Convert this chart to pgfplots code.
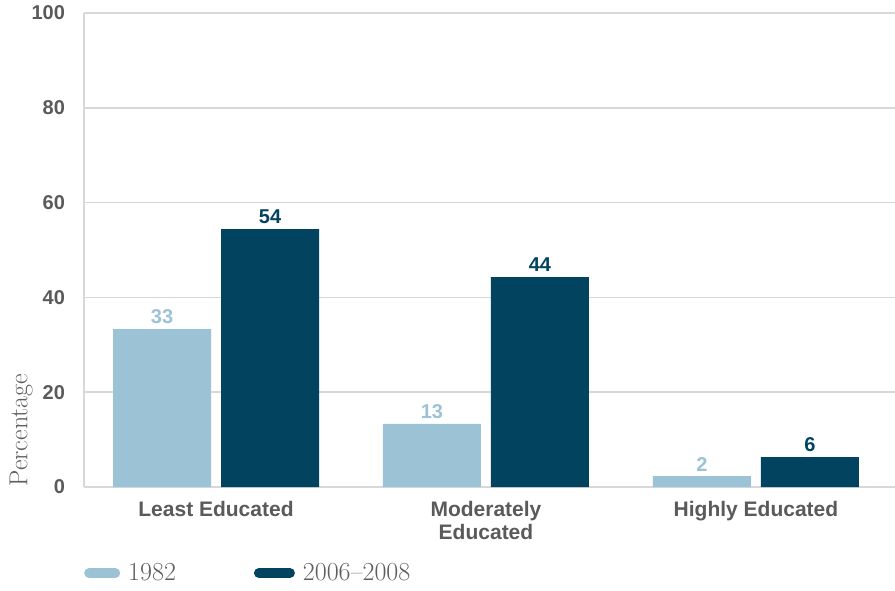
\documentclass[border=0pt]{standalone}
\usepackage{fontspec}
\usepackage{pgfplots}
\pgfplotsset{compat=1.18}
\newfontfamily\labfont{Liberation Sans}
\definecolor{lightbar}{HTML}{9BC2D5}
\definecolor{darkbar}{HTML}{02435F}
\definecolor{txtgray}{HTML}{5A5A5A}
\definecolor{serifgray}{HTML}{5E5E5E}
\definecolor{gridgray}{HTML}{D8D8D8}

\begin{document}
\begin{tikzpicture}
\useasboundingbox (-84pt,-103pt) rectangle (811pt,487pt);
\begin{axis}[
  scale only axis, width=811pt, height=474pt,
  ybar=10pt, bar width=98pt,
  xmin=-0.489, xmax=2.515, ymin=0, ymax=100,
  ytick={0,20,...,100},
  xtick={0,1,2},
  xticklabels={Least Educated, {Moderately\\Educated}, Highly Educated},
  xticklabel style={align=center, font=\labfont\bfseries\fontsize{21}{23}\selectfont, text=txtgray, yshift=-11pt},
  yticklabel style={font=\labfont\bfseries\fontsize{20}{22}\selectfont, text=txtgray, xshift=-15.5pt},
  /pgf/number format/assume math mode=true,
  major tick length=0pt,
  axis x line*=bottom, axis y line*=left,
  axis line style={gridgray, line width=1.5pt, -},
  ymajorgrids, grid style={gridgray, line width=1.5pt},
  ylabel={Percentage},
  ylabel style={at={(axis description cs:-0.0962,-0.0063)}, anchor=north west,
    font=\fontsize{26}{28}\selectfont, text=serifgray},
  nodes near coords={\pgfmathprintnumber[fixed,precision=0]{\pgfplotspointmeta}},
  nodes near coords style={font=\labfont\bfseries\fontsize{20}{22}\selectfont, yshift=1.5pt},
  legend columns=2,
  legend style={at={(axis description cs:0,0)}, anchor=west, yshift=-86pt,
    draw=none, fill=none, inner sep=0pt,
    font=\fontsize{26}{28}\selectfont, text=serifgray,
    nodes={inner xsep=8pt},
    /tikz/every even column/.append style={column sep=70pt}},
]
\addplot[fill=lightbar, draw=none,
  every node near coord/.append style={text=lightbar},
  legend image code/.code={\draw[line width=10pt, line cap=round, lightbar] (5pt,0) -- (31pt,0);}]
  coordinates {(0,33.3) (1,13.3) (2,2.3)};
\addplot[fill=darkbar, draw=none,
  every node near coord/.append style={text=darkbar},
  legend image code/.code={\draw[line width=10pt, line cap=round, darkbar] (5pt,0) -- (36pt,0);}]
  coordinates {(0,54.4) (1,44.3) (2,6.3)};
\legend{1982, 2006--2008}
\end{axis}
\end{tikzpicture}
\end{document}
